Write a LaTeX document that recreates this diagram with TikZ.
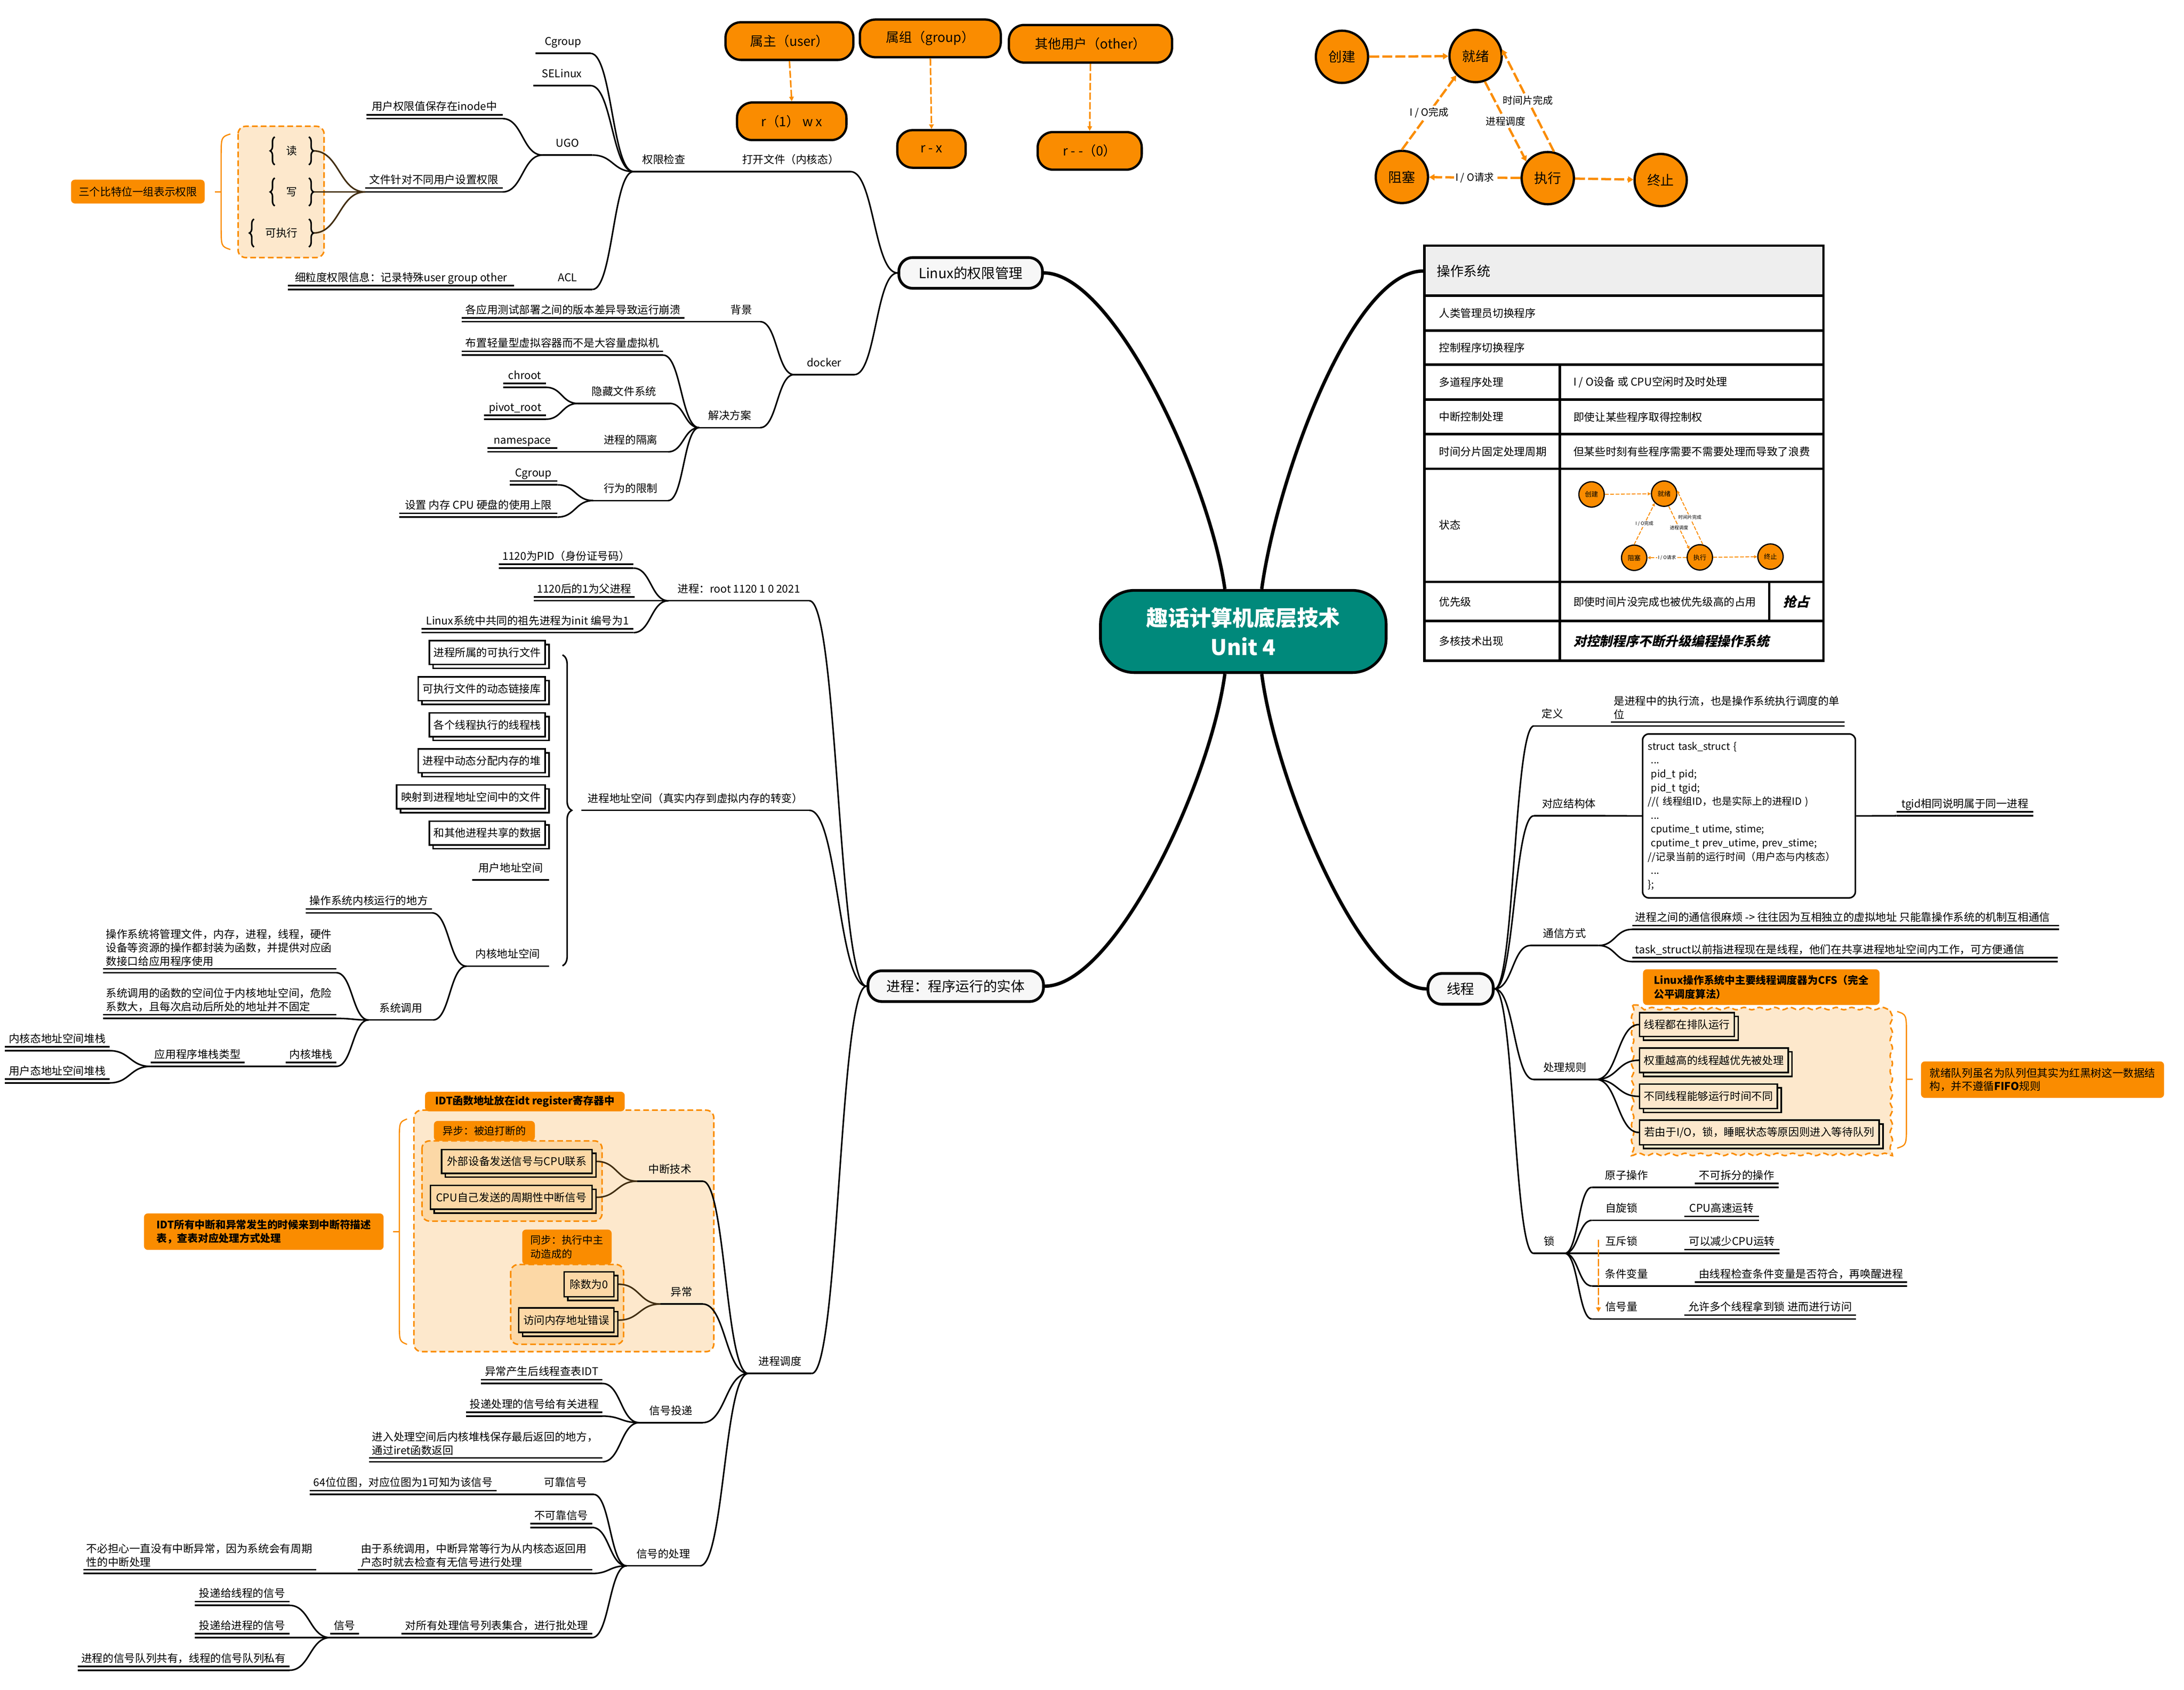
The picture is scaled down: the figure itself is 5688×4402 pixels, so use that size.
\documentclass[tikz,border=0pt]{standalone}
\usepackage{fontspec}
\setmainfont{Noto Sans CJK SC}
\newfontfamily\bisl{Noto Sans CJK SC}[FakeSlant=0.22]
\usetikzlibrary{arrows.meta,calc,shadows,decorations.pathreplacing,decorations.pathmorphing}
\definecolor{orng}{RGB}{250,140,0}
\definecolor{lor}{RGB}{253,232,204}
\definecolor{lortwo}{RGB}{252,216,166}
\definecolor{cteal}{RGB}{0,137,123}
\definecolor{hdr}{RGB}{238,238,238}
\definecolor{brn}{RGB}{66,46,18}
\newcommand\zA{\fontsize{7pt}{8.75pt}\selectfont}
\newcommand\zB{\fontsize{6.75pt}{9pt}\selectfont}
\newcommand\zS{\fontsize{6.5pt}{9pt}\selectfont}
\newcommand\zH{\fontsize{9pt}{11pt}\selectfont}
\newcommand\zT{\fontsize{14pt}{19pt}\selectfont}
\newcommand\zO{\fontsize{8.5pt}{10pt}\selectfont}
\newcommand\zC{\fontsize{8.75pt}{10pt}\selectfont}
\newcommand\zL{\fontsize{6.5pt}{8pt}\selectfont}
\newcommand\zM{\fontsize{4.25pt}{5pt}\selectfont}
\newcommand\zN{\fontsize{3pt}{3.5pt}\selectfont}
\newcommand\zI{\fontsize{8.5pt}{10pt}\selectfont}
\pgfdeclarelayer{fills}
\pgfdeclarelayer{conns}
\pgfsetlayers{fills,conns,main}
\tikzset{
 tpn/.style={inner xsep=2pt,inner ysep=4.25pt,outer sep=0pt,text depth=1.05pt,font=\zA,anchor=south},
 mline/.style={text width=#1,align=left,text depth=},
 ul/.style={line width=1pt},
 cn/.style={line width=1pt},
 mb/.style={line width=2.2pt},
 lone/.style={draw,line width=1.8pt,fill=gray!6,rounded corners=9pt,font=\zH,inner sep=0pt,minimum height=20pt},
 own/.style={draw,line width=1.5pt,fill=orng,rounded corners=10pt,font=\zO,inner sep=0pt,minimum height=24.5pt},
 odash/.style={draw=orng,line width=1pt,dash pattern=on 4.75pt off 1.5pt,-{Triangle[length=3pt,width=3pt]}},
 obox/.style={draw=orng,line width=1pt,dash pattern=on 3.75pt off 2pt},
 obr/.style={draw=orng,line width=0.8pt},
 olab/.style={fill=orng,rounded corners=2.5pt,font=\zB,align=left,inner sep=0pt},
 sbx/.style={draw,line width=1pt,fill=#1,minimum height=15.5pt,inner xsep=2pt,font=\zA,copy shadow={shadow xshift=2.5pt,shadow yshift=-2.5pt,draw=black,fill=#1,line width=1pt}},
 sbx/.default=white,
 brcn/.style={inner sep=0pt,font=\zA,minimum height=17.75pt},
 brc/.style={decorate,decoration={brace,amplitude=3pt},line width=1pt},
 tl/.style={line width=1.6pt},
 tcell/.style={anchor=west,inner sep=0pt,font=\zA},
 stcTop/.style={circle,draw,line width=1.5pt,fill=orng,minimum size=34pt,inner sep=0pt,font=\zC},
 steTop/.style={draw=orng,line width=1.5pt,dash pattern=on 6.5pt off 2pt,-{Triangle[length=3.5pt,width=4pt]}},
 stlTop/.style={fill=white,inner sep=1pt,font=\zL,midway},
 stcMini/.style={circle,draw,line width=0.8pt,fill=orng,minimum size=16.5pt,inner sep=0pt,font=\zM},
 steMini/.style={draw=orng,line width=0.6pt,dash pattern=on 2.5pt off 1pt,-{Triangle[length=2pt,width=2pt]}},
 stlMini/.style={fill=white,inner sep=0.5pt,font=\zN,midway},
}
\newcommand\Tp[6][]{%
  \node[tpn,minimum width={(#4-#3)*0.25pt},#1] (#2) at ({(#3+#4)/2},#5) {#6};
  \draw[ul] (#2.south west) -- (#2.south east);}
\newcommand\Tpd[6][]{%
  \Tp[#1]{#2}{#3}{#4}{#5}{#6}%
  \draw[ul] ([yshift=2.5pt]#2.south west) -- ([yshift=2.5pt]#2.south east);}
\newcommand\mmc[3][]{%
  \draw[cn,#1] let \p1=(#2), \p2=(#3) in (\p1) .. controls ({0.5*\x1+0.5*\x2},\y1) and ({0.5*\x1+0.5*\x2},\y2) .. (\p2);}
\newcommand\lbr[6]{%
  \draw[obr] (#1,#3) .. controls (#2,#3+8) .. (#2,#3+60) -- (#2,#4-60) .. controls (#2,#4-8) .. (#1,#4);
  \draw[obr] (#2,#5) -- (#6,#5);}
\newcommand\StateDiag[7]{%
  \node[stc#7] (#1a) at (#2) {创建};
  \node[stc#7] (#1b) at (#3) {就绪};
  \node[stc#7] (#1c) at (#4) {阻塞};
  \node[stc#7] (#1d) at (#5) {执行};
  \node[stc#7] (#1e) at (#6) {终止};
  \draw[ste#7] (#1a) -- (#1b);
  \draw[ste#7] (#1c.north) -- node[stl#7]{I / O完成} (#1b.south west);
  \draw[ste#7] (#1b.-70) -- node[stl#7]{进程调度} (#1d.142);
  \draw[ste#7] (#1d.77) -- node[stl#7]{时间片完成} (#1b.14);
  \draw[ste#7] (#1d) -- node[stl#7]{I / O请求} (#1c);
  \draw[ste#7] (#1d) -- (#1e);}
\begin{document}
\begin{tikzpicture}[x=0.25pt,y=-0.25pt]
\useasboundingbox (0,0) rectangle (5688,4402);

% ================= background fills =================
\begin{pgfonlayer}{fills}
 \draw[obox,fill=lor,rounded corners=5pt] (620,329) rectangle (844,671);
 \lbr{600}{576}{349}{650}{500}{560}
 \draw[obox,fill=lor,rounded corners=5pt] (1078,2892) rectangle (1859,3521);
 \draw[obox,fill=lortwo,rounded corners=5pt] (1099,2972) rectangle (1568,3181);
 \draw[obox,fill=lortwo,rounded corners=5pt] (1330,3294) rectangle (1624,3502);
 \lbr{1060}{1040}{2915}{3502}{3209}{1024}
 \draw[obox,fill=lor,decorate,decoration={snake,amplitude=0.8pt,segment length=10pt}] (4252,2618) rectangle (4919,3009);
 \lbr{4941}{4965}{2635}{2991}{2812}{4981}
\end{pgfonlayer}

% ================= centre and level 1 =================
\node[draw,line width=1.8pt,fill=cteal,text=white,font=\zT\bfseries,align=center,rounded corners=22pt,minimum width=186pt,minimum height=53.5pt,inner sep=0pt] (ctr) at (3238,1645) {趣话计算机底层技术\\Unit 4};
\node[lone,minimum width=93.5pt] (linux) at (2528,711) {Linux的权限管理};
\node[lone,minimum width=114.25pt] (proc) at (2489,2569) {进程：程序运行的实体};
\node[lone,minimum width=42.5pt] (thr) at (3804,2576) {线程};

% ================= ownership =================
\node[own,minimum width=83.25pt] (ownU) at (2056,107) {属主（user）};
\node[own,minimum width=91.75pt] (ownG) at (2423,100) {属组（group）};
\node[own,minimum width=106.25pt] (ownO) at (2840,114) {其他用户（other）};
\node[own,minimum width=71.25pt] (permU) at (2062,316) {r（1） w x};
\node[own,minimum width=44.5pt] (permG) at (2426,388) {r - x};
\node[own,minimum width=67.75pt] (permO) at (2838,393) {r - -（0）};
\draw[odash] (ownU.south) -- (permU.north);
\draw[odash] (ownG.south) -- (permG.north);
\draw[odash] (ownO.south) -- (permO.north);

% ================= state diagram =================
\StateDiag{sa}{3495,148}{3843,146}{3651,461}{4031,464}{4325,469}{Top}

% ================= permission subtree =================
\Tp{tOpen}{1903}{2215}{447}{打开文件（内核态）}
\Tp{tCheck}{1650}{1808}{447}{权限检查}
\Tp{tCgA}{1395}{1538}{139}{Cgroup}
\Tp{tSel}{1389}{1538}{223}{SELinux}
\Tp{tUgo}{1413}{1543}{404}{UGO}
\Tp{tAcl}{1413}{1543}{754}{ACL}
\Tpd{tInode}{954}{1309}{309}{用户权限值保存在inode中}
\Tpd{tFile}{951}{1309}{500}{文件针对不同用户设置权限}
\Tpd{tFine}{750}{1339}{754}{细粒度权限信息：记录特殊user group other}
\node[brcn,minimum width=21.75pt] (bRead) at (760,393) {读};
\node[brcn,minimum width=21.75pt] (bWrite) at (760,500) {写};
\node[brcn,minimum width=35.25pt] (bExec) at (733,607) {可执行};
\foreach \n in {bRead,bWrite,bExec} {\draw[brc] (\n.south west) -- (\n.north west); \draw[brc] (\n.north east) -- (\n.south east);}
\node[olab,font=\zA,minimum width=87pt,minimum height=15.5pt] (bitLab) at (359,499) {三个比特位一组表示权限};

% ================= docker =================
\Tp{tDocker}{2068}{2225}{976}{docker}
\Tp{tBg}{1882}{1980}{838}{背景}
\Tpd{tBgC}{1202}{1783}{838}{各应用测试部署之间的版本差异导致运行崩溃}
\Tp{tSol}{1821}{1980}{1114}{解决方案}
\Tpd{tLight}{1202}{1727}{925}{布置轻量型虚拟容器而不是大容量虚拟机}
\Tp{tHide}{1505}{1745}{1051}{隐藏文件系统}
\Tpd{tChroot}{1311}{1422}{1009}{chroot}
\Tpd{tPivot}{1261}{1422}{1092}{pivot\_root}
\Tp{tIso}{1545}{1740}{1177}{进程的隔离}
\Tpd{tNs}{1269}{1452}{1177}{namespace}
\Tp{tLim}{1545}{1740}{1304}{行为的限制}
\Tpd{tCgB}{1327}{1452}{1263}{Cgroup}
\Tpd{tSet}{1040}{1452}{1347}{设置 内存 CPU 硬盘的使用上限}

% ================= process subtree =================
\Tp{tRoot}{1741}{2108}{1565}{进程：root 1120 1 0 2021}
\Tpd{tPid}{1299}{1650}{1480}{1120为PID（身份证号码）}
\Tpd{tPar}{1393}{1650}{1565}{1120后的1为父进程}
\Tpd{tInit}{1098}{1650}{1648}{Linux系统中共同的祖先进程为init 编号为1}
\Tp{tAddr}{1514}{2108}{2111}{进程地址空间（真实内存到虚拟内存的转变）}
\node[sbx,minimum width=75.5pt] (bxA) at (1269,1700) {进程所属的可执行文件};
\node[sbx,minimum width=82.75pt] (bxB) at (1254.5,1794) {可执行文件的动态链接库};
\node[sbx,minimum width=75.5pt] (bxC) at (1269,1888) {各个线程执行的线程栈};
\node[sbx,minimum width=82.75pt] (bxD) at (1254.5,1982) {进程中动态分配内存的堆};
\node[sbx,minimum width=96.75pt] (bxE) at (1226.5,2076) {映射到进程地址空间中的文件};
\node[sbx,minimum width=75.5pt] (bxF) at (1269,2170) {和其他进程共享的数据};
\Tp{tUser}{1230}{1430}{2292}{用户地址空间}
\Tp{tKern}{1215}{1430}{2517}{内核地址空间}
\draw[decorate,decoration={brace,amplitude=6pt},line width=1pt] (1465,1706) -- (1465,2516);
\Tpd{tKrun}{796}{1125}{2378}{操作系统内核运行的地方}
\Tp{tSys}{960}{1128}{2657}{系统调用}
\Tpd[mline=148pt]{tSysA}{268}{876}{2534}{操作系统将管理文件，内存，进程，线程，硬件\\设备等资源的操作都封装为函数，并提供对应函\\数接口给应用程序使用}
\Tpd[mline=148pt]{tSysB}{268}{876}{2653}{系统调用的函数的空间位于内核地址空间，危险\\系数大，且每次启动后所处的地址并不固定}
\Tpd{tKst}{744}{876}{2778}{内核堆栈}
\Tpd{tApp}{392}{637}{2778}{应用程序堆栈类型}
\Tpd{tKsA}{13}{285}{2737}{内核态地址空间堆栈}
\Tpd{tKsB}{13}{285}{2821}{用户态地址空间堆栈}

% ================= scheduling / IDT =================
\Tp{tSched}{1949}{2114}{3578}{进程调度}
\node[olab,font=\zB\bfseries,minimum width=130pt,minimum height=12.75pt] (idtTab) at (1367,2869.5) {IDT函数地址放在idt register寄存器中};
\node[olab,minimum width=65.75pt,minimum height=13pt] (asyTab) at (1261.5,2946) {异步：被迫打断的};
\node[olab,minimum width=58.25pt,minimum height=22.75pt] (synTab) at (1476.5,3248.5) {同步：执行中主\\动造成的};
\node[olab,font=\zB\bfseries,minimum width=156pt,minimum height=23.75pt] (idtLab) at (687,3208.5) {IDT所有中断和异常发生的时候来到中断符描述\\表，查表对应处理方式处理};
\node[sbx=lortwo,minimum width=98pt] (ibA) at (1346,3025.5) {外部设备发送信号与CPU联系};
\node[sbx=lortwo,minimum width=105.25pt] (ibB) at (1331.5,3119) {CPU自己发送的周期性中断信号};
\node[sbx=lortwo,minimum width=32.5pt,minimum height=16.25pt] (ibC) at (1534,3345.5) {除数为0};
\node[sbx=lortwo,minimum width=62pt,minimum height=16pt] (ibD) at (1475,3439) {访问内存地址错误};
\Tp{tInt}{1660}{1830}{3077}{中断技术}
\Tp{tExc}{1720}{1830}{3397}{异常}
\Tp{tDel}{1665}{1830}{3706}{信号投递}
\Tpd{tDelA}{1252}{1569}{3604}{异常产生后线程查表IDT}
\Tpd{tDelB}{1214}{1569}{3689}{投递处理的信号给有关进程}
\Tpd[mline=148pt]{tDelC}{961}{1569}{3808}{进入处理空间后内核堆栈保存最后返回的地方，\\通过iret函数返回}
\Tp{tProc}{1632}{1823}{4079}{信号的处理}
\Tp{tRel}{1400}{1546}{3893}{可靠信号}
\Tpd{tRelC}{807}{1293}{3893}{64位位图，对应位图为1可知为该信号}
\Tpd{tUnrel}{1381}{1542}{3979}{不可靠信号}
\Tpd[mline=148.5pt]{tDue}{932}{1542}{4099}{由于系统调用，中断异常等行为从内核态返回用\\户态时就去检查有无信号进行处理}
\Tpd[mline=147.75pt]{tNoW}{217}{824}{4099}{不必担心一直没有中断异常，因为系统会有周期\\性的中断处理}
\Tpd{tBatch}{1045}{1542}{4266}{对所有处理信号列表集合，进行批处理}
\Tpd{tSig}{860}{935}{4266}{信号}
\Tpd{tSigA}{507}{754}{4182}{投递给线程的信号}
\Tpd{tSigB}{507}{754}{4266}{投递给进程的信号}
\Tpd{tSigC}{202}{754}{4351}{进程的信号队列共有，线程的信号队列私有}

% ================= OS table =================
\fill[hdr] (3710,640) rectangle (4749,770);
\node[draw,line width=1.6pt,minimum width=259.75pt,minimum height=270.25pt,inner sep=0pt] (ostab) at (4229.5,1180.5) {};
\foreach \yy in {770,861,950,1041,1131,1221,1516,1618} {\draw[tl] (3710,\yy) -- (4749,\yy);}
\draw[tl] (4062,950) -- (4062,1721);
\draw[tl] (4608,1516) -- (4608,1618);
\node[tcell,font=\zC] (oshdr) at (3741,706) {操作系统};
\node[tcell] (cA) at (3747,816) {人类管理员切换程序};
\node[tcell] (cB) at (3747,906) {控制程序切换程序};
\node[tcell] (cC) at (3747,996) {多道程序处理};
\node[tcell] (cCr) at (4097,996) {I / O设备 或 CPU空闲时及时处理};
\node[tcell] (cD) at (3747,1086) {中断控制处理};
\node[tcell] (cDr) at (4097,1086) {即使让某些程序取得控制权};
\node[tcell] (cE) at (3747,1176) {时间分片固定处理周期};
\node[tcell] (cEr) at (4097,1176) {但某些时刻有些程序需要不需要处理而导致了浪费};
\node[tcell] (cF) at (3747,1368) {状态};
\node[tcell] (cG) at (3747,1568) {优先级};
\node[tcell] (cGr) at (4097,1568) {即使时间片没完成也被优先级高的占用};
\node[font=\zI\bisl\bfseries,inner sep=0pt] (cGx) at (4678,1568) {抢占};
\node[tcell] (cH) at (3747,1670) {多核技术出现};
\node[tcell,font=\zI\bisl\bfseries] (cHr) at (4097,1670) {对控制程序不断升级编程操作系统};
\StateDiag{sb}{4145,1288}{4334,1286}{4256,1453}{4427,1452}{4611,1450}{Mini}

% ================= thread subtree =================
\Tp{tDef}{3995}{4091}{1891}{定义}
\Tpd[mline=148.25pt]{tDefC}{4195}{4804}{1891}{是进程中的执行流，也是操作系统执行调度的单\\位}
\Tp{tStr}{3995}{4177}{2125}{对应结构体}
\node[draw,line width=1pt,rounded corners=4pt,fill=white,minimum width=138.5pt,minimum height=106.75pt,text width=131.5pt,align=left,font=\zS,inner xsep=3.5pt] (strct) at (4555,2125.5) {struct task\_struct \{\\\hspace*{2pt}...\\\hspace*{2pt}pid\_t pid;\\\hspace*{2pt}pid\_t tgid;\\//( 线程组ID，也是实际上的进程ID )\\\hspace*{2pt}...\\\hspace*{2pt}cputime\_t utime, stime;\\\hspace*{2pt}cputime\_t prev\_utime, prev\_stime;\\//记录当前的运行时间（用户态与内核态）\\\hspace*{2pt}...\\\};};
\Tpd{tTgid}{4939}{5296}{2125}{tgid相同说明属于同一进程}
\Tp{tComm}{3986}{4163}{2463}{通信方式}
\node[tpn,anchor=south west] (tCommA) at (4251,2421) {\makebox[274pt][l]{进程之间的通信很麻烦 -> 往往因为互相独立的虚拟地址 只能靠操作系统的机制互相通信}};
\draw[ul] (tCommA.south west) -- (tCommA.south east);
\draw[ul] ([yshift=2.5pt]tCommA.south west) -- ([yshift=2.5pt]tCommA.south east);
\node[tpn,anchor=south west] (tCommB) at (4251,2505) {\makebox[273pt][l]{task\_struct以前指进程现在是线程，他们在共享进程地址空间内工作，可方便通信}};
\draw[ul] (tCommB.south west) -- (tCommB.south east);
\draw[ul] ([yshift=2.5pt]tCommB.south west) -- ([yshift=2.5pt]tCommB.south east);
\Tp{tRule}{3994}{4157}{2812}{处理规则}
\node[olab,font=\zB\bfseries,minimum width=154pt,minimum height=23.25pt] (cfsTab) at (4587,2571.5) {Linux操作系统中主要线程调度器为CFS（完全\\公平调度算法）};
\node[sbx=lor,minimum width=61.75pt] (rbA) at (4393.5,2669) {线程都在排队运行};
\node[sbx=lor,minimum width=96.75pt,minimum height=16pt] (rbB) at (4463.5,2762) {权重越高的线程越优先被处理};
\node[sbx=lor,minimum width=89.75pt,minimum height=16pt] (rbC) at (4449.5,2856) {不同线程能够运行时间不同};
\node[sbx=lor,minimum width=156pt,minimum height=16pt] (rbD) at (4582,2950) {若由于I/O，锁，睡眠状态等原因则进入等待队列};
\node[olab,font=\zA,minimum width=158.25pt,minimum height=23.75pt] (rbLab) at (5319.5,2812.5) {就绪队列虽名为队列但其实为红黑树这一数据结\\构，并不遵循\textbf{FIFO}规则};
\Tp{tLock}{3994}{4075}{3265}{锁}
\Tp{tAtom}{4146}{4326}{3093}{原子操作}
\Tpd{tAtomC}{4414}{4632}{3093}{不可拆分的操作}
\Tp{tSpin}{4146}{4300}{3179}{自旋锁}
\Tpd{tSpinC}{4386}{4581}{3179}{CPU高速运转}
\Tp{tMutex}{4146}{4300}{3265}{互斥锁}
\Tpd{tMutexC}{4386}{4635}{3265}{可以减少CPU运转}
\Tp{tCond}{4146}{4326}{3350}{条件变量}
\Tpd{tCondC}{4414}{4967}{3350}{由线程检查条件变量是否符合，再唤醒进程}
\Tp{tSem}{4146}{4300}{3436}{信号量}
\Tpd{tSemC}{4386}{4834}{3436}{允许多个线程拿到锁 进而进行访问}
\coordinate (lkA) at (4163,3230);
\coordinate (lkB) at (4163,3418);
\draw[odash] (lkA) -- (lkB);

% ================= connectors =================
\begin{pgfonlayer}{conns}
 \draw[mb] ([xshift=-12pt]ctr.north) .. controls (3150,1250) and (2900,711) .. (linux.east);
 \draw[mb] ([xshift=-12pt]ctr.south) .. controls (3150,2050) and (2900,2569) .. (proc.east);
 \draw[mb] ([xshift=12pt]ctr.north) .. controls (3325,1250) and (3520,706) .. (ostab.west |- oshdr);
 \draw[mb] ([xshift=12pt]ctr.south) .. controls (3325,2050) and (3550,2576) .. (thr.west);
 % permission
 \mmc{tOpen.south east}{linux.west}
 \draw[cn] (tCheck.south east) -- (tOpen.south west);
 \mmc{tCgA.south east}{tCheck.south west}
 \mmc{tSel.south east}{tCheck.south west}
 \mmc{tUgo.south east}{tCheck.south west}
 \mmc{tAcl.south east}{tCheck.south west}
 \mmc{tInode.south east}{tUgo.south west}
 \mmc{tFile.south east}{tUgo.south west}
 \draw[cn] (tFine.south east) -- (tAcl.south west);
 \mmc[draw=brn]{[xshift=3pt]bRead.east}{tFile.south west}
 \mmc[draw=brn]{[xshift=3pt]bWrite.east}{tFile.south west}
 \mmc[draw=brn]{[xshift=3pt]bExec.east}{tFile.south west}
 % docker
 \mmc{tDocker.south east}{linux.west}
 \mmc{tBg.south east}{tDocker.south west}
 \mmc{tSol.south east}{tDocker.south west}
 \draw[cn] (tBgC.south east) -- (tBg.south west);
 \mmc{tLight.south east}{tSol.south west}
 \mmc{tHide.south east}{tSol.south west}
 \mmc{tIso.south east}{tSol.south west}
 \mmc{tLim.south east}{tSol.south west}
 \mmc{tChroot.south east}{tHide.south west}
 \mmc{tPivot.south east}{tHide.south west}
 \draw[cn] (tNs.south east) -- (tIso.south west);
 \mmc{tCgB.south east}{tLim.south west}
 \mmc{tSet.south east}{tLim.south west}
 % process
 \mmc{tRoot.south east}{proc.west}
 \mmc{tAddr.south east}{proc.west}
 \mmc{tSched.south east}{proc.west}
 \mmc{tPid.south east}{tRoot.south west}
 \mmc{tPar.south east}{tRoot.south west}
 \mmc{tInit.south east}{tRoot.south west}
 \mmc{tKrun.south east}{tKern.south west}
 \mmc{tSys.south east}{tKern.south west}
 \mmc{tSysA.south east}{tSys.south west}
 \mmc{tSysB.south east}{tSys.south west}
 \mmc{tKst.south east}{tSys.south west}
 \draw[cn] (tApp.south east) -- (tKst.south west);
 \mmc{tKsA.south east}{tApp.south west}
 \mmc{tKsB.south east}{tApp.south west}
 % scheduling
 \mmc{tInt.south east}{tSched.south west}
 \mmc{tExc.south east}{tSched.south west}
 \mmc{tDel.south east}{tSched.south west}
 \mmc{tProc.south east}{tSched.south west}
 \mmc[draw=brn]{[xshift=2.5pt]ibA.east}{tInt.south west}
 \mmc[draw=brn]{[xshift=2.5pt]ibB.east}{tInt.south west}
 \mmc[draw=brn]{[xshift=2.5pt]ibC.east}{tExc.south west}
 \mmc[draw=brn]{[xshift=2.5pt]ibD.east}{tExc.south west}
 \mmc{tDelA.south east}{tDel.south west}
 \mmc{tDelB.south east}{tDel.south west}
 \mmc{tDelC.south east}{tDel.south west}
 \mmc{tRel.south east}{tProc.south west}
 \draw[cn] (tRelC.south east) -- (tRel.south west);
 \mmc{tUnrel.south east}{tProc.south west}
 \mmc{tDue.south east}{tProc.south west}
 \draw[cn] (tNoW.south east) -- (tDue.south west);
 \mmc{tBatch.south east}{tProc.south west}
 \draw[cn] (tSig.south east) -- (tBatch.south west);
 \mmc{tSigA.south east}{tSig.south west}
 \mmc{tSigB.south east}{tSig.south west}
 \mmc{tSigC.south east}{tSig.south west}
 % thread
 \mmc{thr.east}{tDef.south west}
 \mmc{thr.east}{tStr.south west}
 \mmc{thr.east}{tComm.south west}
 \mmc{thr.east}{tRule.south west}
 \mmc{thr.east}{tLock.south west}
 \draw[cn] (tDef.south east) -- (tDefC.south west);
 \draw[cn] (tStr.south east) -- (strct.west);
 \draw[cn] (strct.east) -- (tTgid.south west);
 \mmc{tComm.south east}{tCommA.south west}
 \mmc{tComm.south east}{tCommB.south west}
 \mmc{tRule.south east}{rbA.west}
 \mmc{tRule.south east}{rbB.west}
 \mmc{tRule.south east}{rbC.west}
 \mmc{tRule.south east}{rbD.west}
 \mmc{tLock.south east}{tAtom.south west}
 \mmc{tLock.south east}{tSpin.south west}
 \mmc{tLock.south east}{tMutex.south west}
 \mmc{tLock.south east}{tCond.south west}
 \mmc{tLock.south east}{tSem.south west}
 \draw[cn] (tAtom.south east) -- (tAtomC.south west);
 \draw[cn] (tSpin.south east) -- (tSpinC.south west);
 \draw[cn] (tMutex.south east) -- (tMutexC.south west);
 \draw[cn] (tCond.south east) -- (tCondC.south west);
 \draw[cn] (tSem.south east) -- (tSemC.south west);
\end{pgfonlayer}
\end{tikzpicture}
\end{document}
